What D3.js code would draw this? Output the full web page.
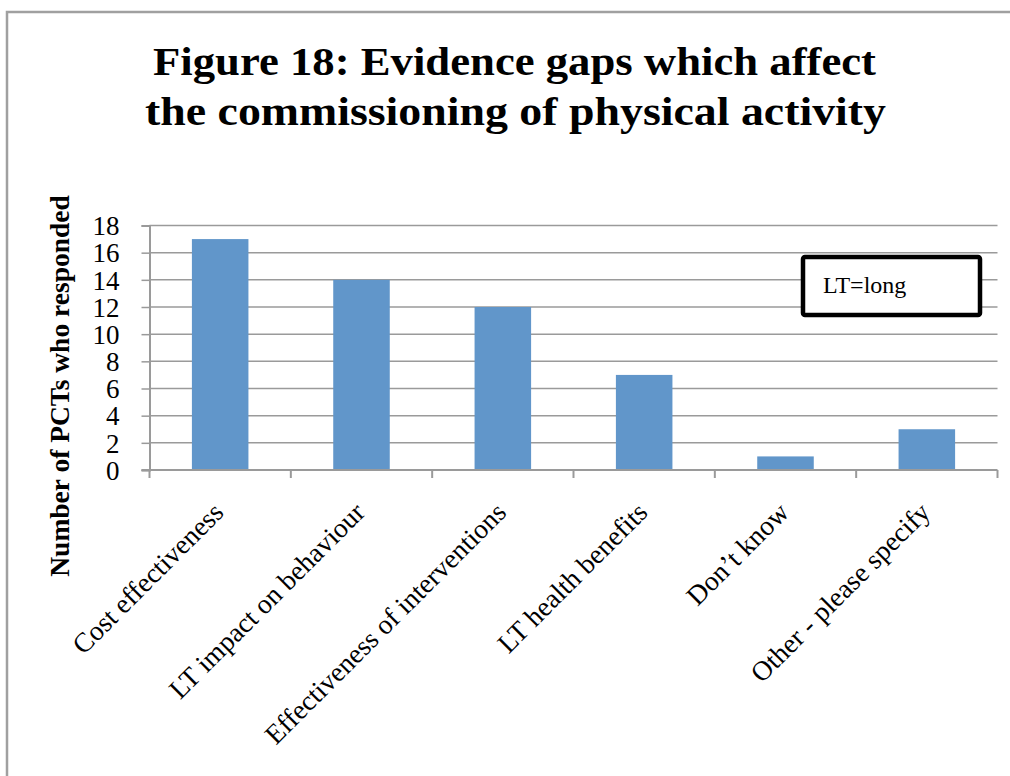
<!DOCTYPE html>
<html>
<head>
<meta charset="utf-8">
<script src="https://cdn.jsdelivr.net/npm/d3@7"></script>
<style>
  html, body { margin: 0; padding: 0; background: #fff; }
  svg { display: block; }
</style>
</head>
<body>
<svg id="chart" width="1010" height="776"></svg>
<script>
// Survey responses: evidence gaps affecting commissioning of physical activity
const categories = [
  "Cost effectiveness",
  "LT impact on behaviour",
  "Effectiveness of interventions",
  "LT health benefits",
  "Don\u2019t know",
  "Other - please specify"
];
const responses = [17, 14, 12, 7, 1, 3];
const yTicks = [0, 2, 4, 6, 8, 10, 12, 14, 16, 18];
const titleLines = [
  "Figure 18: Evidence gaps which affect",
  "the commissioning of physical activity"
];
const yAxisTitle = "Number of PCTs who responded";
const noteText = "LT=long";

const svg = d3.select("#chart");
const serif = "'Liberation Serif', 'DejaVu Serif', serif";

const plot = { left: 149.5, right: 997.5, top: 225.5, bottom: 470 };

// outer frame
svg.append("path")
  .attr("d", "M7,776 L7,12 L1010,12")
  .attr("fill", "none")
  .attr("stroke", "#a0a0a0")
  .attr("stroke-width", 2.5);

// title, each line fitted to its span
const titleSpans = [[153, 876], [145, 886]];
svg.append("g").selectAll("text")
  .data(titleLines)
  .join("text")
  .attr("x", (d, i) => titleSpans[i][0])
  .attr("y", (d, i) => 75 + i * 50)
  .attr("textLength", (d, i) => titleSpans[i][1] - titleSpans[i][0])
  .attr("lengthAdjust", "spacingAndGlyphs")
  .attr("font-family", serif)
  .attr("font-weight", "bold")
  .attr("font-size", 41)
  .attr("fill", "#000")
  .text(d => d);

const x = d3.scaleBand()
  .domain(categories)
  .range([plot.left, plot.right])
  .paddingInner(0.6)
  .paddingOuter(0.3);

const xTickScale = d3.scaleLinear()
  .domain([0, categories.length])
  .range([plot.left, plot.right]);

const y = d3.scaleLinear()
  .domain([0, 18])
  .range([plot.bottom, plot.top]);

// horizontal gridlines
svg.append("g")
  .selectAll("line")
  .data(yTicks.filter(d => d > 0))
  .join("line")
  .attr("x1", plot.left)
  .attr("x2", plot.right)
  .attr("y1", d => y(d))
  .attr("y2", d => y(d))
  .attr("stroke", "#9a9a9a")
  .attr("stroke-width", 1.5);

// bars
svg.append("g")
  .selectAll("rect")
  .data(responses)
  .join("rect")
  .attr("x", (d, i) => x(categories[i]))
  .attr("width", x.bandwidth())
  .attr("y", d => y(d))
  .attr("height", d => y(0) - y(d))
  .attr("fill", "#6196ca");

// y axis
const yAxis = d3.axisLeft(y)
  .tickValues(yTicks)
  .tickSize(8)
  .tickPadding(22)
  .tickFormat(d3.format("d"));

const gy = svg.append("g")
  .attr("transform", `translate(${plot.left},0)`)
  .call(yAxis);
gy.select(".domain").attr("stroke", "#9a9a9a").attr("stroke-width", 2);
gy.selectAll(".tick line").attr("stroke", "#9a9a9a").attr("stroke-width", 1.5);
gy.selectAll(".tick text")
  .attr("font-family", serif)
  .attr("font-size", 27)
  .attr("fill", "#000")
  .attr("dy", "0.34em");

// x axis baseline with boundary ticks
const gx = svg.append("g");
gx.append("line")
  .attr("x1", plot.left - 8)
  .attr("x2", plot.right)
  .attr("y1", y(0))
  .attr("y2", y(0))
  .attr("stroke", "#9a9a9a")
  .attr("stroke-width", 2);
gx.selectAll("line.tk")
  .data(d3.range(categories.length + 1))
  .join("line")
  .attr("class", "tk")
  .attr("x1", d => xTickScale(d))
  .attr("x2", d => xTickScale(d))
  .attr("y1", y(0))
  .attr("y2", y(0) + 8)
  .attr("stroke", "#9a9a9a")
  .attr("stroke-width", 2);

// rotated category labels
svg.append("g")
  .selectAll("text")
  .data(categories)
  .join("text")
  .attr("transform", d => `translate(${x(d) + x.bandwidth() / 2 + 5},${y(0) + 44}) rotate(-45)`)
  .attr("text-anchor", "end")
  .attr("font-family", serif)
  .attr("font-size", 27.5)
  .attr("fill", "#000")
  .text(d => d);

// y axis title
svg.append("text")
  .attr("transform", `translate(69,386) rotate(-90)`)
  .attr("text-anchor", "middle")
  .attr("font-family", serif)
  .attr("font-weight", "bold")
  .attr("font-size", 27.5)
  .attr("fill", "#000")
  .text(yAxisTitle);

// note box
const note = svg.append("g");
note.append("rect")
  .attr("x", 803)
  .attr("y", 257)
  .attr("width", 177)
  .attr("height", 58)
  .attr("rx", 2)
  .attr("fill", "#fff")
  .attr("stroke", "#000")
  .attr("stroke-width", 4.5);
note.append("text")
  .attr("x", 823)
  .attr("y", 293)
  .attr("font-family", serif)
  .attr("font-size", 24)
  .attr("fill", "#000")
  .text(noteText);
</script>
</body>
</html>
